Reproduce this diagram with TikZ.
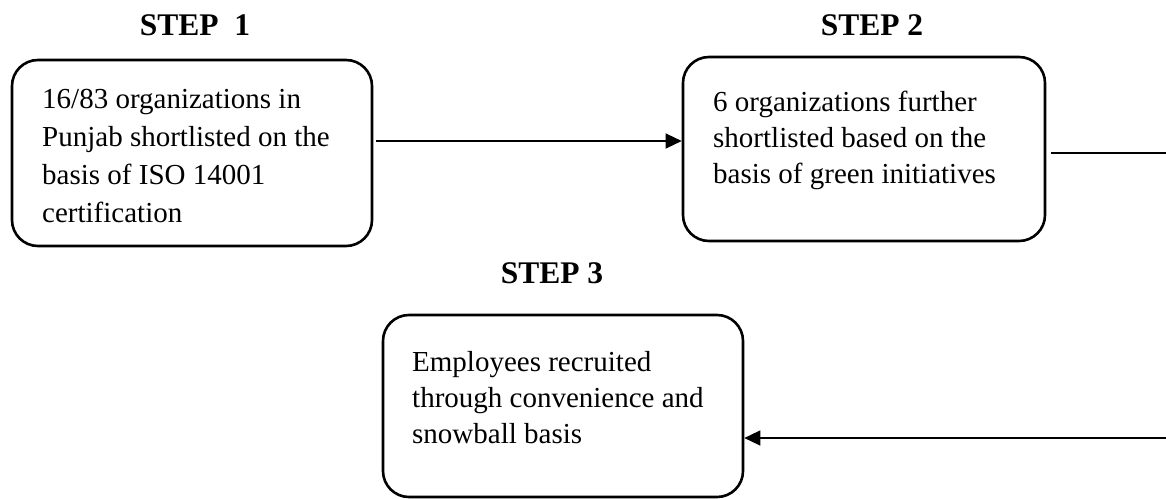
\documentclass[tikz,border=0pt]{standalone}
\usepackage{fontspec}
\setmainfont{Liberation Serif}
\usetikzlibrary{arrows.meta}
\begin{document}
\begin{tikzpicture}[x=1pt,y=-1pt,
  stepbox/.style={draw=black, line width=2.6pt, rounded corners=26pt, inner sep=0pt},
  body/.style={anchor=base west, align=left, inner sep=0pt, font=\fontsize{29}{36}\selectfont},
  head/.style={anchor=base, inner sep=0pt, font=\fontsize{31.5}{36}\selectfont\bfseries},
  conn/.style={draw=black, line width=1.3pt},
  arr/.style={conn, -{Triangle[length=16pt,width=15pt]}}]
\useasboundingbox (0,0) rectangle (1166,498);
% headings
\node[head] (h1) at (195,35) {STEP\ \ 1};
\node[head] (h2) at (872,35) {STEP 2};
\node[head] (h3) at (552,283) {STEP 3};
% boxes
\node[stepbox, minimum width=360pt, minimum height=186pt] (b1) at (192,153) {};
\node[stepbox, minimum width=362pt, minimum height=184pt] (b2) at (864,149) {};
\node[stepbox, minimum width=360pt, minimum height=182pt] (b3) at (563,406) {};
% texts (anchored at the baseline of the last line)
\node[body, font=\fontsize{29}{38}\selectfont] (t1) at (42,222) {16/83 organizations in\\Punjab shortlisted on the\\basis of ISO 14001\\certification};
\node[body] (t2) at (713,183) {6 organizations further\\shortlisted based on the\\basis of green initiatives};
\node[body] (t3) at (412,443) {Employees recruited\\through convenience and\\snowball basis};
% connectors
\coordinate (r1) at (0,141);
\coordinate (e2) at (1166,153);
\coordinate (e3) at (1166,438);
\draw[arr] ([xshift=3pt]b1.east |- r1) -- (b2.west |- r1);
\draw[conn] ([xshift=5pt]b2.east |- e2) -- (e2);
\draw[arr] (e3) -- (b3.east |- e3);
\end{tikzpicture}
\end{document}
